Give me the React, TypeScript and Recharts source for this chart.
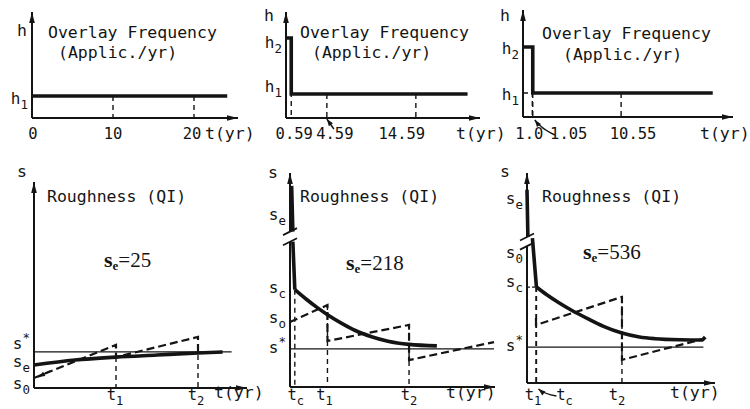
import React from 'react';
import { LineChart, Line, XAxis, YAxis, ReferenceLine } from 'recharts';

const INK = '#141414';
const MONO = '"DejaVu Sans Mono", "Liberation Mono", monospace';
const SERIF = '"Liberation Serif", "DejaVu Serif", serif';

// ---- Overlay frequency (top row), h in drawing units 0..100 ----
const freq1T = [0, 24.1];
const freq1H = [20.8, 20.8];
const freq1Ticks = [0, 10, 20];
const freq1TickText = ['0', '10', '20'];
const freq1Overlays = [10, 20];
const freq1LabelAt = [17.9];
const freq1LabelText = ['h_1'];

const freq2T = [0, 0.59, 0.59, 20.4];
const freq2H = [75.5, 75.5, 22.6, 22.6];
const freq2Ticks = [0.59, 4.59, 14.59];
const freq2TickText = ['0.59', '4.59', '14.59'];
const freq2LabelAt = [71.2, 29.2];
const freq2LabelText = ['h_2', 'h_1'];

const freq3T = [0, 1.05, 1.05, 20.4];
const freq3H = [65.4, 65.4, 22.4, 22.4];
const freq3Ticks = [1.0, 1.05, 10.55];
const freq3TickText = ['1.0', '1.05', '10.55'];
const freq3LabelAt = [63.6, 20.6];
const freq3LabelText = ['h_2', 'h_1'];

// ---- Roughness (bottom row), s in drawing units 0..100 ----
const rough1T = [0, 5, 10, 15, 20, 23];
const rough1S = [11.2, 13.6, 15.0, 16.0, 17.0, 17.5];
const saw1T = [0, 10, 10, 20, 20];
const saw1S = [4.9, 20.9, 15.0, 24.8, 16.0];
const sStar1 = 17.5;
const rough1Ticks = [10, 20];
const rough1TickText = ['t_1', 't_2'];
const rough1LabelAt = [21.4, 12.6, 1.9];
const rough1LabelText = ['s^*', 's_e', 's_0'];

const rough2TopT = [0.2, 0.35];
const rough2TopS = [94, 72.6];
const rough2DropT = [0.35, 0.59];
const rough2DropS = [67.9, 45.5];
const rough2T = [0.59, 2, 3.3, 4.59, 6.5, 8, 10, 12, 14.59, 18];
const rough2S = [45.5, 41.0, 37.2, 33.8, 29.4, 26.4, 23.5, 21.4, 19.9, 19.2];
const saw2T = [0, 4.59, 4.59, 14.59, 14.59, 25];
const saw2S = [30.4, 38.3, 21.5, 29.0, 12.6, 21.0];
const sStar2 = 17.8;
const rough2Ticks = [0.59, 4.59, 14.59];
const rough2TickText = ['t_c', 't_1', 't_2'];
const rough2LabelAt = [80.4, 46.3, 32.2, 18.2];
const rough2LabelText = ['s_e', 's_c', 's_o', 's^*'];

const rough3TopT = [0, 0.1];
const rough3TopS = [92, 69.5];
const rough3DropT = [0.6, 1.05];
const rough3DropS = [69, 45.7];
const rough3T = [1.05, 2.2, 3.5, 5, 6.8, 8.5, 10.55, 12.5, 14.2, 17, 19.4, 19.8];
const rough3S = [45.7, 42.0, 38.3, 34.5, 30.5, 27.0, 23.8, 21.9, 21.1, 20.6, 20.5, 21.9];
const saw3T = [1.0, 1.0, 10.55, 10.55, 19.6];
const saw3S = [31, 27.6, 41.0, 11.0, 21.0];
const sStar3 = 17.1;
const rough3Ticks = [1.0, 1.05, 10.55];
const rough3TickText = ['t_1', 't_c', 't_2'];
const rough3LabelAt = [87.6, 61.9, 48.1, 17.6];
const rough3LabelText = ['s_e', 's_0', 's_c', 's^*'];

// ---- styles ----
const THICK = 3.6;
const SAW = 2.2;
const THIN = 1.3;
const AXIS = 2;
const SAW_DASH = '8 4';
const V_DASH = '5 4';

type Series = { t: number[]; v: number[]; w: number; dash?: string; curve?: boolean };
type Seg = { a: [number, number]; b: [number, number]; w: number; dash?: string; arrow?: boolean };
type PanelCfg = {
  ox: number; oy: number; xTip: number; yTip: number; pxPerYr: number;
  xh: number; xDy: number; xDx: number[];
  xTicks: number[]; xText: string[]; yAt: number[]; yText: string[];
  yBreak?: [number, number];
  series: Series[]; segs: Seg[];
};

const vdash = (t: number, top: number): Seg => ({ a: [t, top], b: [t, 0], w: 1.4, dash: V_DASH });
const zip = (t: number[], v: number[]) => t.map((x, i) => ({ t: x, v: v[i] }));

function Script({ x, y, text, anchor, size }: { x: number; y: number; text: string; anchor: 'start' | 'middle' | 'end'; size: number }) {
  const m = /^(.+?)(?:([_^])(.*))?$/.exec(text)!;
  return (
    <text x={x} y={y} textAnchor={anchor} fontFamily={MONO} fontSize={size} fill={INK}>
      <tspan>{m[1]}</tspan>
      {m[2] && (
        <tspan dy={m[2] === '_' ? 5 : -7} fontSize={size * 0.78}>
          {m[3]}
        </tspan>
      )}
    </text>
  );
}

const segShape = (s: Seg) => (p: any) => {
  const { x1, y1, x2, y2 } = p;
  const ang = Math.atan2(y2 - y1, x2 - x1);
  const L = 11;
  const H = 2.8;
  const bx = x2 - L * Math.cos(ang);
  const by = y2 - L * Math.sin(ang);
  const px = -Math.sin(ang) * H;
  const py = Math.cos(ang) * H;
  return (
    <g>
      <line x1={x1} y1={y1} x2={x2} y2={y2} stroke={INK} strokeWidth={s.w} strokeDasharray={s.dash} />
      {s.arrow && <polygon points={`${x2},${y2} ${bx + px},${by + py} ${bx - px},${by - py}`} fill={INK} />}
    </g>
  );
};

function Panel({ cfg }: { cfg: PanelCfg }) {
  const YW = 40;
  const MT = 8;
  const MR = 12;
  const xMax = (cfg.xTip - cfg.ox) / cfg.pxPerYr;
  const width = YW + (cfg.xTip - cfg.ox) + MR;
  const height = MT + (cfg.oy - cfg.yTip) + cfg.xh;
  const dt = 7 / cfg.pxPerYr;
  const dv = (3.5 * 100) / (cfg.oy - cfg.yTip);

  const axes: Seg[] = [{ a: [0, 0], b: [xMax, 0], w: AXIS, arrow: true }];
  if (cfg.yBreak) {
    const [lo, hi] = cfg.yBreak;
    axes.push({ a: [0, 0], b: [0, lo], w: AXIS }, { a: [0, hi], b: [0, 100], w: AXIS, arrow: true });
    [lo, hi].forEach((L) => axes.push({ a: [-dt, L - dv], b: [dt, L + dv], w: 1.8 }));
  } else {
    axes.push({ a: [0, 0], b: [0, 100], w: AXIS, arrow: true });
  }

  return (
    <div style={{ position: 'absolute', left: cfg.ox - YW, top: cfg.yTip - MT }}>
      <LineChart width={width} height={height} margin={{ top: MT, right: MR, bottom: 0, left: 0 }}>
        <XAxis
          type="number"
          dataKey="t"
          domain={[0, xMax]}
          ticks={cfg.xTicks}
          interval={0}
          axisLine={false}
          tickLine={false}
          tickSize={0}
          tickMargin={0}
          height={cfg.xh}
          tick={(p: any) => {
            const i = cfg.xTicks.indexOf(p.payload.value);
            return <Script x={p.x + cfg.xDx[i]} y={p.y + cfg.xDy} text={cfg.xText[i]} anchor="middle" size={15.5} />;
          }}
        />
        <YAxis
          type="number"
          domain={[0, 100]}
          ticks={cfg.yAt}
          interval={0}
          axisLine={false}
          tickLine={false}
          tickSize={0}
          tickMargin={0}
          width={YW}
          tick={(p: any) => {
            const i = cfg.yAt.indexOf(p.payload.value);
            return <Script x={p.x - 4} y={p.y + 5} text={cfg.yText[i]} anchor="end" size={16} />;
          }}
        />
        {[...cfg.segs, ...axes].map((s, i) => (
          <ReferenceLine
            key={'r' + i}
            segment={[{ x: s.a[0], y: s.a[1] }, { x: s.b[0], y: s.b[1] }]}
            ifOverflow="visible"
            shape={segShape(s)}
          />
        ))}
        {cfg.series.map((s, i) => (
          <Line
            key={'l' + i}
            data={zip(s.t, s.v)}
            dataKey="v"
            type={s.curve ? 'monotone' : 'linear'}
            stroke={INK}
            strokeWidth={s.w}
            strokeDasharray={s.dash}
            strokeLinejoin="miter"
            dot={false}
            activeDot={false}
            isAnimationActive={false}
          />
        ))}
      </LineChart>
    </div>
  );
}

const panels: PanelCfg[] = [
  {
    ox: 32, oy: 118, xTip: 238, yTip: 12, pxPerYr: 8.1, xh: 30, xDy: 21, xDx: [1, 0, -2],
    xTicks: freq1Ticks, xText: freq1TickText, yAt: freq1LabelAt, yText: freq1LabelText,
    series: [{ t: freq1T, v: freq1H, w: THICK }],
    segs: freq1Overlays.map((t) => vdash(t, freq1H[0])),
  },
  {
    ox: 286, oy: 118, xTip: 480, yTip: 12, pxPerYr: 8.9, xh: 30, xDy: 21, xDx: [3, 8, -14],
    xTicks: freq2Ticks, xText: freq2TickText, yAt: freq2LabelAt, yText: freq2LabelText,
    series: [{ t: freq2T, v: freq2H, w: THICK }],
    segs: [vdash(0.59, freq2H[0]), vdash(4.59, freq2H[3]), vdash(14.59, freq2H[3])],
  },
  {
    ox: 523, oy: 117, xTip: 733, yTip: 10, pxPerYr: 9.3, xh: 30, xDy: 22, xDx: [-3, 36, 12],
    xTicks: freq3Ticks, xText: freq3TickText, yAt: freq3LabelAt, yText: freq3LabelText,
    series: [{ t: freq3T, v: freq3H, w: THICK }],
    segs: [
      vdash(1.0, freq3H[0]),
      vdash(1.05, freq3H[3]),
      vdash(10.55, freq3H[3]),
      { a: [0, freq3H[3]], b: [1.05, freq3H[3]], w: 1.4, dash: V_DASH },
    ],
  },
  {
    ox: 34, oy: 388, xTip: 247, yTip: 182, pxPerYr: 8.2, xh: 21, xDy: 12, xDx: [-1, -2],
    xTicks: rough1Ticks, xText: rough1TickText, yAt: rough1LabelAt, yText: rough1LabelText,
    series: [
      { t: rough1T, v: rough1S, w: THICK, curve: true },
      { t: saw1T, v: saw1S, w: SAW, dash: SAW_DASH },
    ],
    segs: [
      { a: [0, sStar1], b: [24.1, sStar1], w: THIN },
      vdash(10, saw1S[2]),
      vdash(20, saw1S[4]),
    ],
  },
  {
    ox: 290, oy: 387, xTip: 495, yTip: 173, pxPerYr: 8.16, xh: 22, xDy: 13, xDx: [1, -3, 0],
    xTicks: rough2Ticks, xText: rough2TickText, yAt: rough2LabelAt, yText: rough2LabelText,
    yBreak: [67.9, 72.6],
    series: [
      { t: rough2TopT, v: rough2TopS, w: THICK },
      { t: rough2DropT, v: rough2DropS, w: THICK },
      { t: rough2T, v: rough2S, w: THICK, curve: true },
      { t: saw2T, v: saw2S, w: SAW, dash: SAW_DASH },
    ],
    segs: [
      { a: [0, sStar2], b: [25, sStar2], w: THIN },
      vdash(0.59, rough2S[0]),
      vdash(4.59, saw2S[1]),
      vdash(14.59, saw2S[3]),
    ],
  },
  {
    ox: 527, oy: 383, xTip: 715, yTip: 173, pxPerYr: 9.0, xh: 26, xDy: 17, xDx: [-3, 28, -5],
    xTicks: rough3Ticks, xText: rough3TickText, yAt: rough3LabelAt, yText: rough3LabelText,
    yBreak: [65.2, 69.5],
    series: [
      { t: rough3TopT, v: rough3TopS, w: THICK },
      { t: rough3DropT, v: rough3DropS, w: THICK },
      { t: rough3T, v: rough3S, w: THICK, curve: true },
      { t: saw3T, v: saw3S, w: SAW, dash: SAW_DASH },
    ],
    segs: [
      { a: [0, sStar3], b: [19.6, sStar3], w: THIN },
      vdash(1.0, rough3S[0]),
      vdash(1.05, rough3S[0]),
      vdash(10.55, saw3S[2]),
      { a: [0, rough3S[0]], b: [1.05, rough3S[0]], w: 1.2, dash: '3 2' },
    ],
  },
];

const px = (i: number, t: number) => panels[i].ox + t * panels[i].pxPerYr;

function Arrow({ d, from, tip }: { d: string; from: [number, number]; tip: [number, number] }) {
  const ang = Math.atan2(tip[1] - from[1], tip[0] - from[0]);
  const L = 7;
  const H = 2.5;
  const bx = tip[0] - L * Math.cos(ang);
  const by = tip[1] - L * Math.sin(ang);
  const qx = -Math.sin(ang) * H;
  const qy = Math.cos(ang) * H;
  return (
    <g>
      <path d={d} fill="none" stroke={INK} strokeWidth={1.4} />
      <polygon points={`${tip[0]},${tip[1]} ${bx + qx},${by + qy} ${bx - qx},${by - qy}`} fill={INK} />
    </g>
  );
}

function SeLabel({ x, y, value }: { x: number; y: number; value: string }) {
  return (
    <text x={x} y={y} fontFamily={SERIF} fontSize={21} fill={INK}>
      <tspan fontWeight="bold" fontSize={22}>s</tspan>
      <tspan fontWeight="bold" fontSize={13} dy={3}>e</tspan>
      <tspan dy={-3}>={value}</tspan>
    </text>
  );
}

function Overlay() {
  const a2 = px(1, 4.59);
  const a3 = px(2, 1.05);
  const a6 = px(5, 1.05);
  return (
    <svg width={750} height={409} style={{ position: 'absolute', left: 0, top: 0, pointerEvents: 'none' }}>
      <g fontFamily={MONO} fontSize={16.5} fill={INK}>
        <text x={48} y={38}>Overlay Frequency</text>
        <text x={58} y={58}>(Applic./yr)</text>
        <text x={300} y={38}>Overlay Frequency</text>
        <text x={312} y={58}>(Applic./yr)</text>
        <text x={542} y={39}>Overlay Frequency</text>
        <text x={563} y={60}>(Applic./yr)</text>
        <text x={47} y={202}>Roughness (QI)</text>
        <text x={300} y={202}>Roughness (QI)</text>
        <text x={542} y={202}>Roughness (QI)</text>
        <text x={17} y={36}>h</text>
        <text x={264} y={21}>h</text>
        <text x={500} y={21}>h</text>
        <text x={17} y={177}>s</text>
        <text x={268} y={178}>s</text>
        <text x={500} y={177}>s</text>
        <text x={205} y={139}>t(yr)</text>
        <text x={456} y={139}>t(yr)</text>
        <text x={700} y={139}>t(yr)</text>
        <text x={214} y={398}>t(yr)</text>
        <text x={446} y={398}>t(yr)</text>
        <text x={670} y={398}>t(yr)</text>
      </g>
      <SeLabel x={104} y={267} value="25" />
      <SeLabel x={346} y={270} value="218" />
      <SeLabel x={583} y={259} value="536" />
      <Arrow d={`M${a2 + 7},129 L${a2},119`} from={[a2 + 7, 129]} tip={[a2, 119]} />
      <Arrow d={`M${a3 + 22},135 Q${a3 + 12},130 ${a3 + 9},127 Q${a3 + 5},124 ${a3 + 2},120`} from={[a3 + 5, 124]} tip={[a3 + 2, 120]} />
      <Arrow d={`M${a6 + 20},396 Q${a6 + 8},394 ${a6 + 2},389`} from={[a6 + 8, 394]} tip={[a6 + 2, 389]} />
      <Arrow d="M50,371 L38,377" from={[50, 371]} tip={[38, 377]} />
    </svg>
  );
}

export default function App() {
  return (
    <div style={{ position: 'absolute', left: 0, top: 0, width: 750, height: 409, background: '#fff', overflow: 'hidden' }}>
      {panels.map((p, i) => (
        <Panel key={i} cfg={p} />
      ))}
      <Overlay />
    </div>
  );
}
